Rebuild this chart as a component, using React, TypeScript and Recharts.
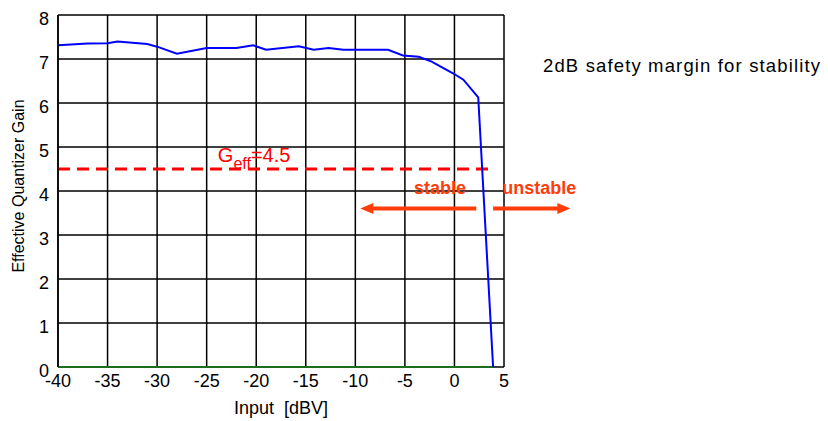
import {
  CartesianGrid,
  Label,
  Line,
  LineChart,
  ReferenceDot,
  ReferenceLine,
  XAxis,
  YAxis,
} from 'recharts';

// measured quantizer gain vs. input level
const inputDbv = [
  -40, -37, -35, -34, -31, -30, -28, -25, -22, -20.3, -19, -15.7, -14.2, -12.7,
  -11.2, -6.7, -5.2, -3.6, -2.3, -0.1, 0.9, 2.4, 3.9,
];
const gain = [
  7.31, 7.35, 7.36, 7.4, 7.34, 7.28, 7.12, 7.25, 7.25, 7.31, 7.21, 7.29, 7.21,
  7.25, 7.21, 7.21, 7.08, 7.05, 6.94, 6.67, 6.53, 6.13, 0,
];

const xTicks = [-40, -35, -30, -25, -20, -15, -10, -5, 0, 5];
const yTicks = [0, 1, 2, 3, 4, 5, 6, 7, 8];

const gEff = 4.5;
const arrowLevel = 3.6;

const data = inputDbv.map((x, i) => ({ input: x, gain: gain[i] }));

const FONT = '"Liberation Sans", Arial, sans-serif';
const ARROW = '#ff3d0a';

type SegmentShapeProps = {
  x1?: number;
  y1?: number;
  x2?: number;
  y2?: number;
};

// line with a filled head at its second point
const ArrowShape = (props: SegmentShapeProps) => {
  const x1 = Number(props.x1);
  const y1 = Number(props.y1);
  const x2 = Number(props.x2);
  const y2 = Number(props.y2);
  const dir = Math.sign(x2 - x1);
  const head = 13;
  const half = 5.5;
  return (
    <g>
      <line x1={x1} y1={y1} x2={x2 - dir * (head - 2)} y2={y2} stroke={ARROW} strokeWidth={4} />
      <polygon
        points={`${x2},${y2} ${x2 - dir * head},${y2 - half} ${x2 - dir * head},${y2 + half}`}
        fill={ARROW}
      />
    </g>
  );
};

const textAt =
  (text: string, color: string, anchor: 'start' | 'middle', bold = false) =>
  (p: { cx?: number; cy?: number }) => (
    <text
      x={p.cx}
      y={p.cy}
      fill={color}
      textAnchor={anchor}
      fontFamily={FONT}
      fontSize={18}
      fontWeight={bold ? 'bold' : 'normal'}
    >
      {text}
    </text>
  );

const GeffLabel = (p: { cx?: number; cy?: number }) => (
  <text x={p.cx} y={p.cy} fill="#ff0000" fontFamily={FONT} fontSize={20}>
    G
    <tspan fontSize={16} dy={7}>
      eff
    </tspan>
    <tspan dy={-7}>={gEff}</tspan>
  </text>
);

const YTick = ({ x, y, payload }: any) => (
  <text
    x={x}
    y={y}
    dy={10}
    textAnchor="end"
    fontFamily={FONT}
    fontSize={18}
    fill="#000"
  >
    {payload.value}
  </text>
);

export default function App() {
  return (
    <div style={{ position: 'absolute', left: 0, top: 0, width: 828, height: 421, background: '#fff' }}>
      <LineChart
        width={828}
        height={421}
        data={data}
        margin={{ top: 15, right: 324, bottom: 0, left: 0 }}
      >
        <CartesianGrid stroke="#000" strokeWidth={1.5} />
        <XAxis
          dataKey="input"
          type="number"
          domain={[-40, 5]}
          ticks={xTicks}
          height={54}
          axisLine={false}
          tickLine={false}
          tickMargin={1}
          tick={{ fill: '#000', fontSize: 18, fontFamily: FONT }}
        >
          <Label
            content={({ viewBox }: any) => (
              <text
                x={viewBox.x + viewBox.width / 2}
                y={viewBox.y + 47}
                textAnchor="middle"
                fontFamily={FONT}
                fontSize={18}
                fill="#000"
                style={{ whiteSpace: 'pre' }}
              >
                {'Input  [dBV]'}
              </text>
            )}
          />
        </XAxis>
        <YAxis
          type="number"
          domain={[0, 8]}
          ticks={yTicks}
          width={58}
          axisLine={{ stroke: '#000', strokeWidth: 1.5 }}
          tickLine={false}
          tickSize={6}
          tickMargin={3}
          tick={YTick}
        >
          <Label
            content={({ viewBox }: any) => {
              const bx = 24;
              const cy = viewBox.y + viewBox.height / 2 - 5;
              return (
                <text
                  x={bx}
                  y={cy}
                  transform={`rotate(-90 ${bx} ${cy})`}
                  textAnchor="middle"
                  fontFamily={FONT}
                  fontSize={16}
                  fill="#000"
                >
                  Effective Quantizer Gain
                </text>
              );
            }}
          />
        </YAxis>
        <ReferenceLine
          segment={[
            { x: -40, y: 0 },
            { x: 3.9, y: 0 },
          ]}
          stroke="#1c6e1c"
          strokeWidth={2}
        />
        <ReferenceLine
          segment={[
            { x: -40, y: gEff },
            { x: 3.6, y: gEff },
          ]}
          stroke="#ff0000"
          strokeWidth={3}
          strokeDasharray="12 7"
        />
        <ReferenceLine
          segment={[
            { x: 2.2, y: arrowLevel },
            { x: -9.5, y: arrowLevel },
          ]}
          ifOverflow="visible"
          shape={ArrowShape}
        />
        <ReferenceLine
          segment={[
            { x: 3.9, y: arrowLevel },
            { x: 11.7, y: arrowLevel },
          ]}
          ifOverflow="visible"
          shape={ArrowShape}
        />
        <ReferenceDot x={-23.87} y={4.656} ifOverflow="visible" shape={GeffLabel} />
        <ReferenceDot x={-1.45} y={3.93} ifOverflow="visible" shape={textAt('stable', ARROW, 'middle', true)} />
        <ReferenceDot x={8.55} y={3.93} ifOverflow="visible" shape={textAt('unstable', ARROW, 'middle', true)} />
        <Line
          dataKey="gain"
          type="linear"
          stroke="#0000ff"
          strokeWidth={2}
          dot={false}
          isAnimationActive={false}
        />
      </LineChart>
      <svg
        width={828}
        height={421}
        style={{ position: 'absolute', left: 0, top: 0, pointerEvents: 'none' }}
      >
        <text
          x={543}
          y={72}
          fontFamily={FONT}
          fontSize={18.5}
          fill="#000"
          textLength={277}
          lengthAdjust="spacing"
        >
          2dB safety margin for stability
        </text>
      </svg>
    </div>
  );
}
